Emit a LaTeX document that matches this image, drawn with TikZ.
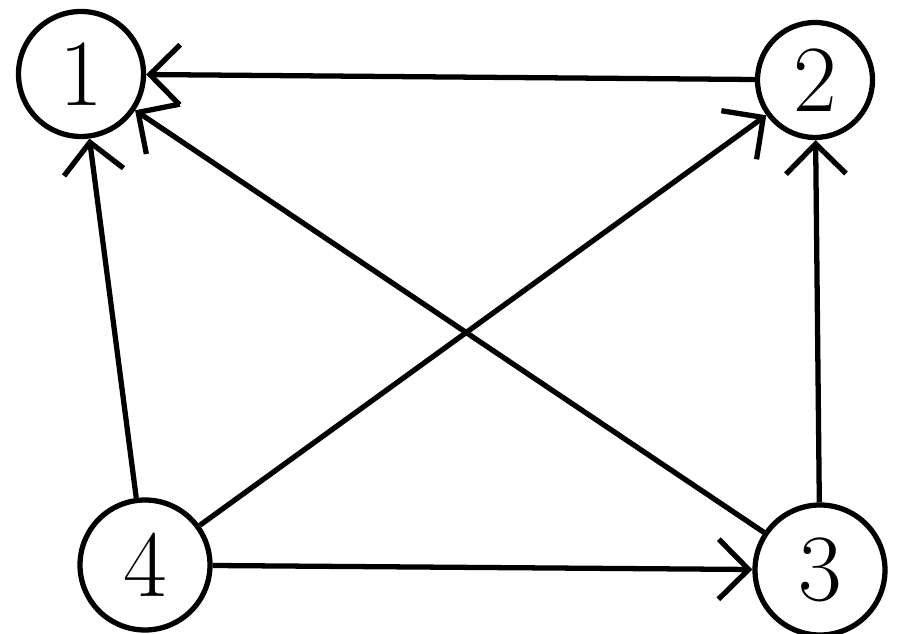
\documentclass[tikz,border=0pt]{standalone}
\usepackage{xcolor}
\usepackage{tikz}
\usetikzlibrary{arrows.meta, positioning}

\begin{document}
\begin{tikzpicture}[
  vertex/.style={circle, draw=black, line width=3pt, minimum size=2.5cm, inner sep=0pt, font=\fontsize{54}{54}\selectfont},
  arrow/.style={line width=3pt, -{Straight Barb[length=6mm, width=12mm, line width=3pt]}}
]
\useasboundingbox (0,0) rectangle (18.28,12.68);

\node (one) [vertex] at (1.62,11.2) {1};
\node (two) [vertex, minimum size=2.3cm] at (16.3,11.08) {2};
\node (four) [vertex, minimum size=2.6cm] at (2.9,1.38) {4};
\node (three) [vertex, minimum size=2.6cm] at (16.4,1.28) {3};

\draw [arrow] (two) -- (one);
\draw [arrow] (three) -- (one);
\draw [arrow] (four) -- (one);
\draw [arrow] (four) -- (two);
\draw [arrow] (three) -- (two);
\draw [arrow] (four) -- (three);

\end{tikzpicture}
\end{document}
